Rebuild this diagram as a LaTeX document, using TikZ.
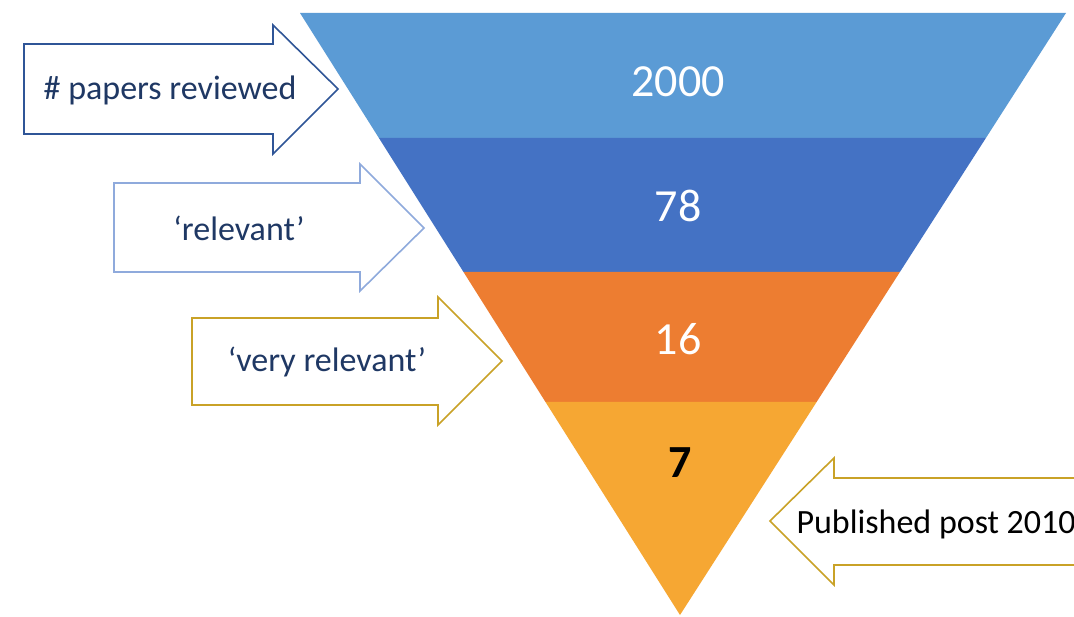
\documentclass[tikz,border=0pt]{standalone}
\usepackage{fontspec}
\setmainfont{Carlito}
\usetikzlibrary{calc}

\definecolor{bandA}{HTML}{5B9BD5}
\definecolor{bandB}{HTML}{4472C4}
\definecolor{bandC}{HTML}{ED7D31}
\definecolor{bandD}{HTML}{F6A733}
\definecolor{navy}{HTML}{1F3864}
\definecolor{edgeDark}{HTML}{2F5597}
\definecolor{edgeLight}{HTML}{8FAADC}
\definecolor{edgeGold}{HTML}{C9A227}

\tikzset{
  band/.style={draw=none},
  count/.style={anchor=base, text=white, font=\fontsize{46}{50}\selectfont},
  tag/.style={anchor=base, text=navy, font=\fontsize{34}{38}\selectfont},
  outline/.style={line width=1.6pt, fill=white, line join=miter},
}

\begin{document}
\begin{tikzpicture}[x=1pt,y=-1pt]
  \useasboundingbox (0,0) rectangle (1074,617);
  \fill[white] (0,0) rectangle (1074,617);

  % funnel corners, left and right edge at each band boundary
  \coordinate (l0) at (300,13);    \coordinate (r0) at (1066,13);
  \coordinate (l1) at (378.9,138); \coordinate (r1) at (985.9,138);
  \coordinate (l2) at (463.5,272); \coordinate (r2) at (899.9,272);
  \coordinate (l3) at (545.5,402); \coordinate (r3) at (816.6,402);
  \coordinate (apex) at (680,615);

  % funnel bands
  \fill[bandA] (l0) -- (r0) -- (r1) -- (l1) -- cycle;
  \fill[bandB] (l1) -- (r1) -- (r2) -- (l2) -- cycle;
  \fill[bandC] (l2) -- (r2) -- (r3) -- (l3) -- cycle;
  \fill[bandD] (l3) -- (r3) -- (apex) -- cycle;

  % counts per stage
  \node[count] (n2000) at (678,97) {2000};
  \node[count] (n78) at (678,222) {78};
  \node[count] (n16) at (678,355) {16};
  \node[count, text=black, font=\fontsize{46}{50}\selectfont\bfseries] (n7) at (680,478) {7};

  % block arrows pointing at the funnel
  \draw[outline, draw=edgeDark]
    (24,44) -- (273,44) -- (273,25) -- (338,89) -- (273,154) -- (273,134) -- (24,134) -- cycle;
  \node[tag] (reviewed) at (170,100) {\# papers reviewed};

  \draw[outline, draw=edgeLight]
    (114,183) -- (360,183) -- (360,164) -- (424,228) -- (360,291) -- (360,272) -- (114,272) -- cycle;
  \node[tag] (relevant) at (239,241) {‘relevant’};

  \draw[outline, draw=edgeGold]
    (192,318) -- (438,318) -- (438,297) -- (502,361) -- (438,425) -- (438,405) -- (192,405) -- cycle;
  \node[tag] (veryrel) at (327,372) {‘very relevant’};

  % arrow from the right side
  \draw[outline, draw=edgeGold]
    (1095,478) -- (834,478) -- (834,458) -- (770,521) -- (834,585) -- (834,565) -- (1095,565);
  \node[tag, text=black, anchor=base west] (post) at (793,533) {Published post 2010};
\end{tikzpicture}
\end{document}
